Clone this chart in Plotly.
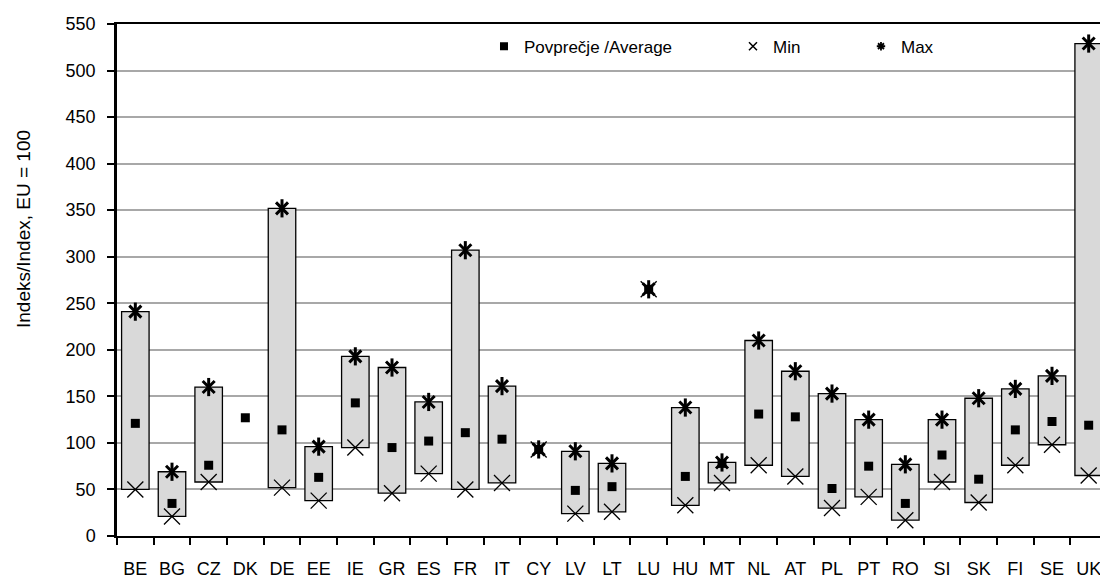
import plotly.graph_objects as go

categories = ["BE", "BG", "CZ", "DK", "DE", "EE", "IE", "GR", "ES", "FR", "IT", "CY", "LV", "LT",
              "LU", "HU", "MT", "NL", "AT", "PL", "PT", "RO", "SI", "SK", "FI", "SE", "UK"]
avg_vals = [121, 35, 76, 127, 114, 63, 143, 95, 102, 111, 104, 93, 49, 53,
            265, 64, 78, 131, 128, 51, 75, 35, 87, 61, 114, 123, 119]
min_vals = [50, 21, 58, None, 52, 38, 95, 46, 67, 50, 57, 93, 24, 26,
            265, 33, 57, 76, 64, 30, 42, 17, 58, 36, 76, 98, 65]
max_vals = [241, 69, 160, None, 352, 96, 193, 181, 144, 307, 161, 93, 91, 78,
            265, 138, 79, 210, 177, 153, 125, 77, 125, 148, 158, 172, 529]

y_ticks = list(range(0, 551, 50))

FONT = "Liberation Sans, Arial, sans-serif"

# range boxes (no box where min == max or data missing)
spans = [(mx - mn) if (mx is not None and mn is not None and mx > mn) else None
         for mn, mx in zip(min_vals, max_vals)]

fig = go.Figure()

fig.add_trace(go.Bar(
    x=categories, y=spans, base=min_vals, width=0.75,
    marker=dict(color="#d9d9d9", line=dict(color="black", width=1.3)),
    showlegend=False, hoverinfo="skip"
))

# Max marker: Excel-style star (x with a vertical bar)
fig.add_trace(go.Scatter(
    x=categories, y=max_vals, mode="markers", showlegend=False,
    marker=dict(symbol="x-thin", size=12, line=dict(color="black", width=3), color="black")
))
fig.add_trace(go.Scatter(
    x=categories, y=max_vals, mode="markers", showlegend=False,
    marker=dict(symbol="line-ns", size=13, line=dict(color="black", width=3), color="black")
))
fig.add_trace(go.Scatter(
    x=categories, y=min_vals, mode="markers", showlegend=False,
    marker=dict(symbol="x-thin", size=16, line=dict(color="black", width=1.3), color="black")
))
fig.add_trace(go.Scatter(
    x=categories, y=avg_vals, mode="markers", showlegend=False,
    marker=dict(symbol="square", size=9, color="black")
))

# legend-only dummy traces
fig.add_trace(go.Scatter(
    x=[None], y=[None], mode="markers", name="Povprečje /Average", legend="legend",
    marker=dict(symbol="square", size=8, color="black")
))
fig.add_trace(go.Scatter(
    x=[None], y=[None], mode="markers", name="Min", legend="legend2",
    marker=dict(symbol="x-thin", size=8, line=dict(color="black", width=1.5), color="black")
))
fig.add_trace(go.Scatter(
    x=[None], y=[None], mode="markers", name="Max", legend="legend3",
    marker=dict(symbol="asterisk", size=7, line=dict(color="black", width=1.8), color="black")
))

leg_common = dict(orientation="h", yanchor="middle", xanchor="left", y=0.9557,
                  bgcolor="rgba(0,0,0,0)", font=dict(family=FONT, size=17, color="black"),
                  itemwidth=30)

fig.update_layout(
    width=1100, height=571,
    margin=dict(l=109, r=1, t=16, b=43, autoexpand=False),
    paper_bgcolor="white", plot_bgcolor="white",
    font=dict(family=FONT, size=18, color="black"),
    barmode="overlay",
    legend=dict(x=0.3707, **leg_common),
    legend2=dict(x=0.6222, **leg_common),
    legend3=dict(x=0.7515, **leg_common),
    xaxis=dict(
        type="category", categoryorder="array", categoryarray=categories,
        showline=True, linecolor="black", linewidth=2.2, mirror=True,
        ticks="outside", tickson="boundaries", ticklen=7, tickwidth=2, tickcolor="black",
        showgrid=False, tickfont=dict(family=FONT, size=18, color="black"),
        tickangle=0, automargin=False, ticklabelstandoff=15,
        range=[-0.5, len(categories) - 0.5],
    ),
    yaxis=dict(
        range=[0, 550], tickvals=y_ticks, ticktext=[str(v) for v in y_ticks],
        showline=True, linecolor="black", linewidth=2.5, mirror=False,
        ticks="outside", ticklen=7, tickwidth=2, tickcolor="black",
        showgrid=True, gridcolor="#a8a8a8", gridwidth=1.5,
        zeroline=False, tickfont=dict(family=FONT, size=18, color="black"),
        automargin=False, ticklabelstandoff=8,
    ),
    shapes=[dict(type="line", xref="paper", yref="paper", x0=1, x1=1, y0=0, y1=1,
                 line=dict(color="#bdbdbd", width=1))],
    annotations=[dict(text="Indeks/Index, EU = 100", textangle=-90, xref="paper", yref="paper",
                      x=0, y=0.5996, xanchor="center", yanchor="middle", xshift=-94,
                      showarrow=False, font=dict(family=FONT, size=19, color="black"))],
)

fig.write_html("out.html")
